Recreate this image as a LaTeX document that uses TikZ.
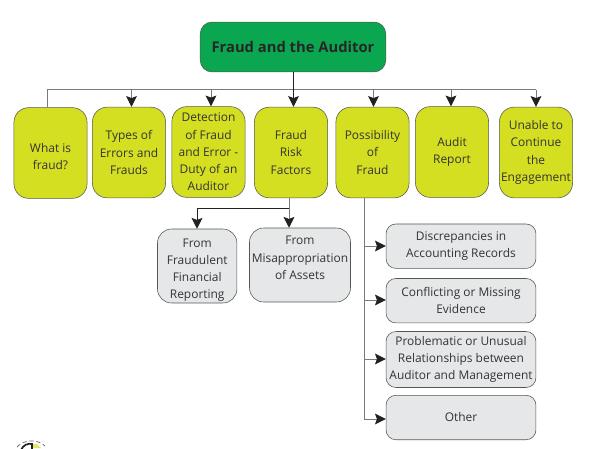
\documentclass[tikz,border=0pt]{standalone}
\usepackage{fontspec}
\setmainfont{Open Sans}
\usepackage{xcolor}
\definecolor{rootgreen}{HTML}{0AA650}
\definecolor{lime}{HTML}{D4DF22}
\definecolor{pale}{HTML}{E6E7E9}
\definecolor{rim}{HTML}{55584F}
\definecolor{wire}{HTML}{7A7A7A}
\definecolor{tip}{HTML}{222222}
\usetikzlibrary{arrows.meta,positioning}
\newcommand{\lead}[1]{\rule{0pt}{#1}}
\tikzset{
  rootbox/.style ={draw=rim,fill=rootgreen,rounded corners=8.5pt,font=\fontsize{10.5}{13}\selectfont\bfseries,
                   minimum width=132pt,minimum height=35.5pt,align=center,text=black!85,inner sep=0pt},
  topbox/.style  ={draw=rim,fill=lime,rounded corners=10.5pt,font=\fontsize{8.5}{12.3}\selectfont,
                   minimum width=52pt,minimum height=64.5pt,align=center,text=black!80,inner sep=0pt},
  subbox/.style  ={draw=rim,fill=pale,rounded corners=10pt,font=\fontsize{8.5}{12.3}\selectfont,
                   align=center,text=black!80,inner sep=0pt},
  wideline/.style={subbox,minimum width=106.6pt,rounded corners=7pt},
  flow/.style    ={draw=wire,line width=0.7pt},
  flowto/.style  ={flow,-{Stealth[length=2.7mm,width=2.7mm,inset=0.5mm,color=tip]}},
}
\begin{document}
\begin{tikzpicture}[x=0.025cm,y=-0.025cm]
\useasboundingbox (0,0) rectangle (591,448);
% root
\node[rootbox] (root) at (293,47) {Fraud and the Auditor};
% first row
\node[topbox] (what) at (50.5,153) {\lead{11pt}What is\\fraud?};
\node[topbox] (types) at (129,152.5) {Types of\\Errors and\\Frauds};
\node[topbox] (detect) at (208.5,152) {Detection\\of Fraud\\and Error -\\Duty of an\\Auditor};
\node[topbox] (risk) at (291,152.5) {Fraud\\Risk\\Factors};
\node[topbox] (possible) at (372.5,152.5) {Possibility\\of\\Fraud};
\node[topbox] (report) at (452,152) {Audit\\Report};
\node[topbox] (unable) at (536,152.5) {Unable to\\Continue\\the\\Engagement};
% risk factors
\node[subbox,minimum width=56.5pt,minimum height=52.6pt] (fin) at (197.2,266) {\lead{12pt}From\\Fraudulent\\Financial\\Reporting};
\node[subbox,minimum width=71.8pt,minimum height=50.8pt] (assets) at (300,265) {\lead{12pt}From\\Misappropriation\\of Assets\\\strut};
% possibility of fraud
\node[wideline,minimum height=31.6pt] (disc) at (461,246.2) {Discrepancies in\\Accounting Records};
\node[wideline,minimum height=31.6pt] (confl) at (461,300.7) {Conflicting or Missing\\Evidence};
\node[wideline,minimum height=39.8pt] (prob) at (461,359.5) {Problematic or Unusual\\Relationships between\\Auditor and Management};
\node[wideline,minimum height=31.6pt] (other) at (461,417.5) {Other};
% bus
\coordinate (busa) at (47,89.5);
\coordinate (busb) at (131.5,89.5);
\coordinate (busc) at (211,89.5);
\coordinate (busd) at (293.5,89.5);
\coordinate (buse) at (373.5,89.5);
\coordinate (busf) at (451,89.5);
\coordinate (busg) at (536,89.5);
\draw[flow] (what.north -| busa) -- (busa) -- (busg);
\foreach \b/\n in {busb/types,busc/detect,buse/possible,busf/report,busg/unable}
  \draw[flowto] (\b) -- (\b |- \n.north);
\draw[flowto,draw=tip] (root.south -| busd) -- (busd |- risk.north);
% branch under risk
\coordinate (riska) at (289,198);
\coordinate (riskb) at (289,208.5);
\coordinate (riskc) at (197,208.5);
\draw[flowto] (riska) -- (assets.north -| riska);
\draw[flowto,draw=tip] (riskb) -- (riskc) -- (fin.north -| riskc);
% branch under possibility
\coordinate (posa) at (364.5,198);
\coordinate (posb) at (364.5,419);
\draw[flowto] (posa) -- (posb) -- (other.west |- posb);
\foreach \n/\y in {disc/246,confl/300,prob/359}
  \draw[flowto] (364.5,\y) -- (\n.west |- 364.5,\y);
% logo edge, cut by the page
\begin{scope}
\clip (0,0) rectangle (591,448);
\fill[lime!70!white] (32,444) -- (37,444) -- (41,448) -- (32,448) -- cycle;
\draw[tip,line width=1.2pt] (21,450) .. controls (23,445) and (28,443) .. (32,444) -- (32,449);
\draw[tip!70,densely dashed,line width=0.5pt] (17,447) .. controls (24,439) and (38,439) .. (45,446);
\end{scope}
\end{tikzpicture}
\end{document}
